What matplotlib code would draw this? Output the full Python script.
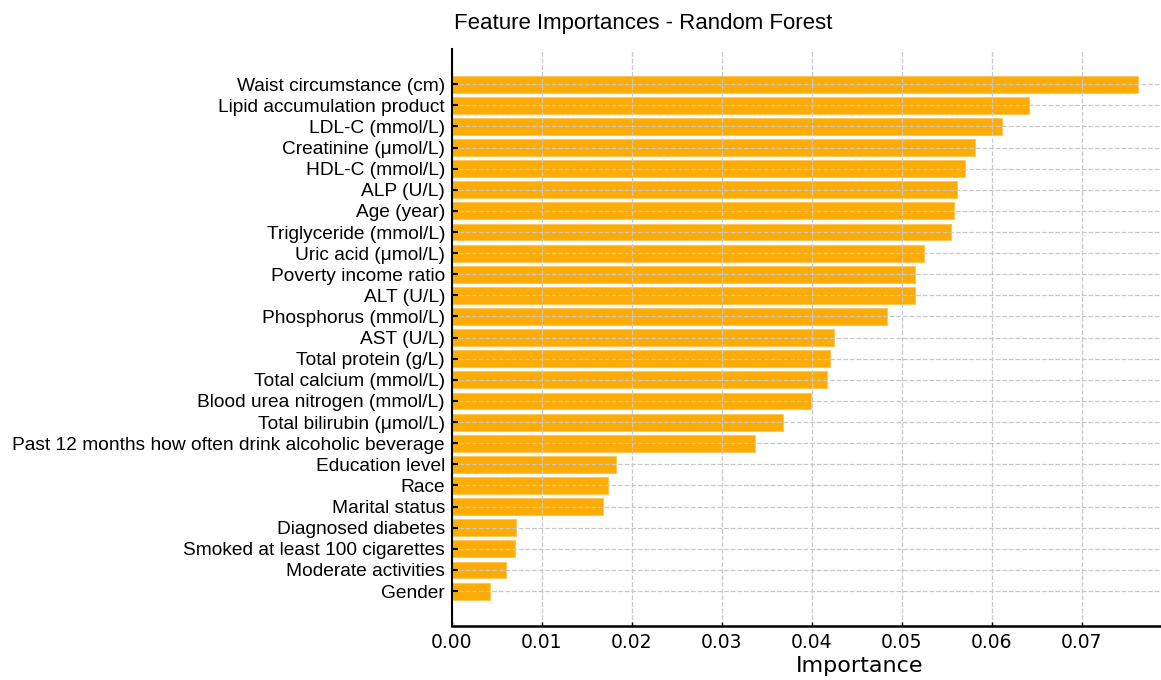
import matplotlib
matplotlib.use("Agg")
import matplotlib.pyplot as plt

features = [
    "Waist circumstance (cm)",
    "Lipid accumulation product",
    "LDL-C (mmol/L)",
    "Creatinine (\u03bcmol/L)",
    "HDL-C (mmol/L)",
    "ALP (U/L)",
    "Age (year)",
    "Triglyceride (mmol/L)",
    "Uric acid (\u03bcmol/L)",
    "Poverty income ratio",
    "ALT (U/L)",
    "Phosphorus (mmol/L)",
    "AST (U/L)",
    "Total protein (g/L)",
    "Total calcium (mmol/L)",
    "Blood urea nitrogen (mmol/L)",
    "Total bilirubin (\u03bcmol/L)",
    "Past 12 months how often drink alcoholic beverage",
    "Education level",
    "Race",
    "Marital status",
    "Diagnosed diabetes",
    "Smoked at least 100 cigarettes",
    "Moderate activities",
    "Gender",
]
importances = [
    0.0762, 0.0641, 0.0611, 0.0581, 0.0570, 0.0561, 0.0558, 0.0554,
    0.0524, 0.0515, 0.0514, 0.0483, 0.0424, 0.0420, 0.0417, 0.0399,
    0.0368, 0.0337, 0.0182, 0.0173, 0.0168, 0.0071, 0.0070, 0.0060,
    0.0042,
]
xticks = [0.00, 0.01, 0.02, 0.03, 0.04, 0.05, 0.06, 0.07]

fig = plt.figure(figsize=(11.61, 6.8), dpi=100)
# axes extends past the right edge of the (cropped) figure
ax = fig.add_axes([0.3893, 0.0795, 0.703, 0.848])

n = len(features)
ypos = list(range(n - 1, -1, -1))
ax.barh(ypos, importances, height=0.8, color="#FCAC04",
        edgecolor="#FDC65A", linewidth=0.8, zorder=1)

ax.set_yticks(ypos)
ax.set_yticklabels(features, family="Liberation Sans", fontsize=13.8)
ax.set_xticks(xticks)
ax.set_xticklabels([f"{t:.2f}" for t in xticks], fontsize=13.5)
ax.set_xlim(0, 0.0907)
ax.set_ylim(-1.65, n - 1 + 1.65)

ax.grid(True, linestyle="--", color="#c8c8c8", linewidth=0.9, zorder=2)
ax.set_axisbelow(False)
for s in ["top", "right"]:
    ax.spines[s].set_visible(False)
ax.spines["left"].set_linewidth(1.5)
ax.spines["bottom"].set_linewidth(1.8)
ax.spines["left"].set_zorder(5)
ax.spines["bottom"].set_zorder(5)
ax.tick_params(axis="y", direction="in", length=4, width=1.5, pad=5)
ax.tick_params(axis="x", direction="in", length=3, width=1.0, pad=5)

ax.set_xlabel("Importance", fontsize=16, labelpad=3)
fig.text(0.554, 0.966, "Feature Importances - Random Forest",
         family="Liberation Sans", fontsize=16, ha="center", va="center")

fig.savefig("out.png", dpi=100)
